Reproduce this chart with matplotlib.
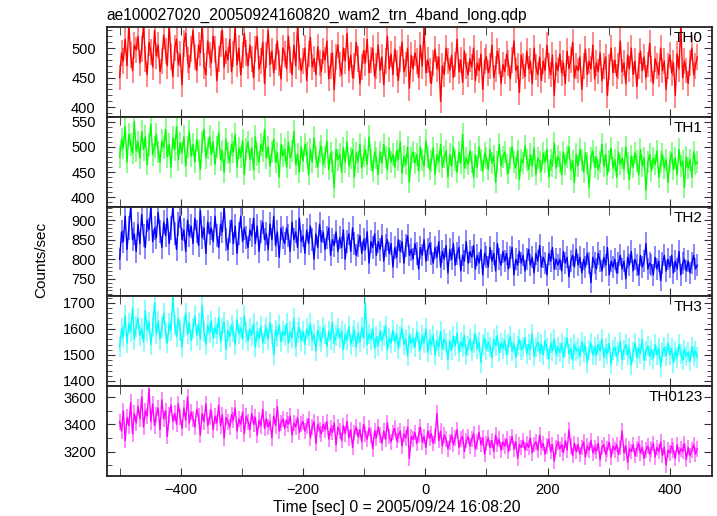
import numpy as np
import matplotlib.pyplot as plt
from matplotlib.ticker import MultipleLocator

plt.rcParams['font.family'] = ['Liberation Sans', 'DejaVu Sans']

# count rates (counts/sec), one value every 3 s from t = -500 s
th0 = [450, 492, 478, 515, 470, 540, 488, 462, 505, 497,
       520, 475, 498, 540, 482, 455, 510, 493, 468, 530,
       487, 505, 460, 478, 522, 495, 470, 540, 485, 452,
       500, 515, 472, 490, 438, 508, 525, 480, 467, 498,
       530, 485, 462, 505, 492, 540, 470, 455, 512, 488,
       475, 520, 498, 445, 482, 507, 530, 468, 495, 480,
       515, 460, 490, 535, 472, 500, 455, 488, 525, 492,
       470, 505, 482, 450, 498, 520, 465, 478, 510, 440,
       488, 530, 472, 495, 458, 485, 512, 475, 448, 500,
       490, 465, 520, 480, 455, 505, 470, 538, 485, 462,
       478, 500, 445, 490, 518, 468, 482, 455, 502, 475,
       460, 495, 480, 512, 448, 470, 492, 430, 485, 505,
       472, 455, 500, 478, 525, 462, 488, 450, 470, 510,
       482, 440, 468, 495, 475, 515, 458, 480, 500, 452,
       470, 505, 462, 485, 438, 478, 520, 465, 490, 455,
       498, 475, 445, 482, 510, 460, 472, 500, 432, 488,
       465, 492, 478, 450, 505, 470, 535, 458, 480, 462,
       440, 475, 498, 465, 485, 410, 470, 455, 500, 478,
       462, 488, 450, 472, 515, 460, 480, 442, 495, 470,
       455, 482, 468, 500, 445, 475, 462, 490, 430, 478,
       485, 458, 470, 505, 450, 465, 495, 478, 440, 472,
       460, 490, 475, 448, 480, 512, 462, 470, 425, 488,
       470, 452, 495, 465, 478, 440, 500, 468, 455, 485,
       445, 478, 462, 505, 470, 455, 488, 420, 475, 462,
       490, 458, 475, 440, 495, 465, 480, 510, 450, 470,
       462, 485, 430, 470, 498, 455, 478, 465, 505, 448,
       475, 460, 492, 445, 470, 485, 420, 468, 500, 458,
       480, 452, 470, 512, 460, 475, 440, 488, 465, 500,
       455, 478, 435, 470, 495, 462, 485, 450, 472, 508,
       465, 440, 482, 470, 455, 500, 462, 478, 430, 470,
       488, 458, 475, 420, 490, 465, 540, 450, 478, 462,
       440, 475, 500, 455, 470, 485]

th1 = [480, 515, 498, 540, 470, 525, 505, 488, 550, 492,
       510, 478, 530, 495, 520, 465, 505, 545, 485, 500,
       525, 490, 470, 512, 498, 535, 480, 505, 460, 518,
       495, 540, 475, 508, 488, 520, 462, 500, 530, 482,
       505, 470, 515, 492, 455, 510, 535, 478, 498, 520,
       485, 510, 465, 500, 528, 475, 492, 450, 515, 488,
       470, 505, 490, 525, 460, 498, 480, 512, 445, 495,
       510, 475, 498, 455, 520, 485, 470, 505, 492, 535,
       478, 500, 462, 490, 515, 470, 488, 440, 505, 482,
       495, 460, 510, 478, 492, 530, 465, 485, 450, 500,
       472, 505, 488, 445, 495, 470, 518, 480, 460, 490,
       502, 465, 480, 512, 455, 488, 470, 420, 495, 475,
       485, 450, 498, 470, 510, 462, 478, 495, 440, 488,
       470, 505, 458, 482, 495, 465, 520, 475, 452, 490,
       478, 445, 490, 468, 505, 480, 455, 498, 470, 485,
       460, 492, 475, 510, 448, 482, 465, 500, 430, 478,
       490, 468, 485, 452, 500, 475, 462, 512, 480, 455,
       472, 498, 445, 485, 470, 505, 460, 480, 492, 440,
       485, 462, 500, 475, 450, 490, 468, 525, 458, 478,
       465, 492, 470, 440, 485, 460, 500, 475, 452, 488,
       478, 455, 495, 468, 482, 430, 470, 505, 462, 480,
       490, 465, 448, 478, 500, 470, 458, 492, 435, 475,
       468, 502, 475, 455, 485, 462, 498, 445, 478, 470,
       452, 488, 470, 495, 440, 475, 462, 508, 458, 482,
       470, 445, 490, 465, 480, 500, 455, 472, 430, 485,
       462, 495, 475, 450, 488, 468, 420, 478, 492, 460,
       480, 455, 470, 505, 462, 485, 445, 472, 498, 458,
       475, 440, 490, 465, 478, 455, 500, 468, 435, 482,
       460, 488, 472, 445, 495, 462, 478, 415, 470, 485,
       452, 478, 465, 492, 440, 470, 485, 458, 475, 430,
       470, 488, 455, 478, 445, 495, 462, 472, 420, 480,
       458, 475, 440, 490, 465, 470]

th2 = [800, 870, 845, 910, 825, 880, 935, 850, 865, 820,
       890, 840, 915, 860, 830, 900, 875, 935, 845, 880,
       855, 920, 870, 830, 895, 860, 905, 840, 880, 935,
       865, 825, 890, 910, 850, 875, 820, 900, 860, 885,
       840, 905, 870, 835, 925, 855, 880, 815, 895, 865,
       880, 845, 910, 860, 830, 890, 870, 935, 850, 825,
       870, 900, 840, 885, 815, 865, 910, 845, 880, 855,
       830, 875, 860, 905, 840, 885, 820, 870, 895, 850,
       865, 825, 890, 850, 910, 835, 870, 805, 880, 855,
       840, 880, 860, 820, 895, 850, 870, 830, 905, 845,
       860, 815, 875, 840, 885, 850, 800, 865, 830, 890,
       845, 870, 825, 855, 880, 810, 850, 835, 870, 820,
       855, 830, 875, 800, 845, 865, 820, 880, 840, 810,
       835, 860, 815, 850, 825, 870, 790, 845, 830, 865,
       810, 845, 825, 860, 795, 835, 850, 815, 840, 780,
       830, 805, 850, 820, 845, 790, 835, 860, 810, 825,
       800, 840, 815, 775, 830, 810, 850, 795, 825, 840,
       815, 790, 830, 805, 845, 780, 820, 800, 835, 765,
       825, 800, 840, 785, 815, 830, 770, 810, 795, 845,
       790, 820, 805, 835, 775, 810, 790, 825, 760, 815,
       805, 780, 830, 795, 815, 770, 840, 800, 785, 820,
       795, 815, 775, 805, 830, 760, 800, 785, 820, 790,
       810, 770, 800, 825, 785, 805, 765, 815, 795, 835,
       780, 805, 790, 760, 815, 795, 830, 775, 800, 785,
       800, 770, 820, 790, 805, 755, 795, 810, 780, 825,
       785, 805, 765, 800, 780, 815, 790, 740, 805, 790,
       775, 815, 795, 770, 805, 785, 830, 760, 795, 780,
       800, 765, 790, 810, 775, 795, 750, 805, 785, 820,
       770, 800, 785, 760, 810, 780, 795, 840, 775, 790,
       785, 760, 805, 775, 795, 745, 790, 810, 770, 800,
       780, 810, 765, 795, 775, 820, 760, 790, 800, 770,
       795, 765, 790, 810, 775, 785]

th3 = [1530, 1600, 1570, 1650, 1545, 1620, 1590, 1680, 1560, 1610,
       1640, 1575, 1600, 1550, 1670, 1595, 1625, 1540, 1610, 1700,
       1580, 1630, 1560, 1605, 1660, 1585, 1545, 1620, 1595, 1725,
       1615, 1570, 1640, 1595, 1530, 1610, 1660, 1580, 1625, 1555,
       1600, 1650, 1575, 1620, 1560, 1690, 1590, 1540, 1615, 1585,
       1630, 1565, 1605, 1580, 1645, 1550, 1600, 1625, 1520, 1595,
       1570, 1615, 1590, 1540, 1635, 1580, 1605, 1560, 1650, 1585,
       1555, 1600, 1575, 1620, 1530, 1590, 1565, 1610, 1545, 1580,
       1605, 1560, 1625, 1580, 1500, 1595, 1570, 1615, 1550, 1590,
       1575, 1620, 1545, 1590, 1565, 1640, 1530, 1585, 1605, 1555,
       1590, 1540, 1600, 1575, 1620, 1555, 1580, 1515, 1595, 1570,
       1550, 1605, 1580, 1530, 1590, 1560, 1625, 1545, 1575, 1600,
       1565, 1590, 1520, 1580, 1555, 1610, 1540, 1570, 1595, 1530,
       1585, 1550, 1605, 1565, 1700, 1540, 1580, 1560, 1600, 1525,
       1570, 1535, 1590, 1555, 1575, 1610, 1520, 1565, 1545, 1595,
       1550, 1580, 1525, 1570, 1600, 1540, 1560, 1495, 1575, 1545,
       1565, 1530, 1590, 1550, 1520, 1575, 1545, 1600, 1510, 1560,
       1540, 1575, 1500, 1555, 1530, 1590, 1520, 1560, 1545, 1480,
       1555, 1520, 1570, 1535, 1585, 1510, 1550, 1530, 1575, 1500,
       1535, 1560, 1515, 1545, 1580, 1525, 1550, 1470, 1540, 1565,
       1520, 1550, 1530, 1490, 1560, 1535, 1575, 1510, 1545, 1525,
       1555, 1500, 1540, 1570, 1515, 1545, 1490, 1535, 1560, 1520,
       1530, 1565, 1505, 1540, 1520, 1580, 1495, 1530, 1550, 1510,
       1540, 1500, 1555, 1525, 1485, 1545, 1515, 1560, 1500, 1530,
       1510, 1545, 1490, 1530, 1565, 1505, 1525, 1480, 1540, 1515,
       1525, 1495, 1550, 1510, 1535, 1470, 1520, 1545, 1500, 1530,
       1500, 1540, 1515, 1560, 1490, 1525, 1505, 1545, 1465, 1520,
       1530, 1495, 1510, 1550, 1480, 1520, 1540, 1500, 1525, 1460,
       1510, 1545, 1490, 1525, 1505, 1560, 1480, 1515, 1535, 1495,
       1520, 1485, 1540, 1500, 1525, 1455, 1510, 1530, 1495, 1545,
       1500, 1525, 1470, 1515, 1490, 1540, 1505, 1480, 1520, 1495,
       1510, 1475, 1530, 1495, 1515, 1490]

th0123 = [3420, 3350, 3500, 3280, 3450, 3390, 3560, 3330, 3480, 3410,
          3530, 3440, 3600, 3380, 3500, 3460, 3660, 3420, 3550, 3390,
          3470, 3520, 3360, 3580, 3440, 3500, 3310, 3470, 3540, 3420,
          3480, 3400, 3550, 3450, 3370, 3520, 3430, 3600, 3410, 3490,
          3440, 3380, 3510, 3460, 3320, 3480, 3420, 3550, 3390, 3450,
          3500, 3360, 3460, 3410, 3540, 3390, 3470, 3300, 3450, 3420,
          3380, 3470, 3430, 3520, 3350, 3440, 3400, 3490, 3330, 3460,
          3420, 3360, 3480, 3400, 3450, 3320, 3430, 3390, 3510, 3370,
          3440, 3380, 3420, 3300, 3460, 3390, 3530, 3350, 3410, 3440,
          3370, 3430, 3400, 3460, 3320, 3410, 3380, 3450, 3340, 3400,
          3420, 3350, 3390, 3440, 3300, 3380, 3420, 3260, 3400, 3360,
          3330, 3400, 3360, 3420, 3290, 3370, 3340, 3410, 3250, 3380,
          3350, 3280, 3390, 3330, 3420, 3300, 3360, 3230, 3340, 3380,
          3310, 3360, 3270, 3400, 3330, 3290, 3370, 3320, 3220, 3350,
          3300, 3380, 3320, 3260, 3350, 3290, 3410, 3310, 3270, 3340,
          3370, 3280, 3320, 3350, 3240, 3330, 3300, 3380, 3150, 3310,
          3290, 3340, 3260, 3320, 3380, 3270, 3310, 3230, 3350, 3300,
          3330, 3260, 3310, 3480, 3280, 3350, 3240, 3320, 3290, 3220,
          3270, 3320, 3250, 3300, 3360, 3230, 3290, 3310, 3200, 3280,
          3310, 3240, 3290, 3330, 3220, 3270, 3340, 3250, 3300, 3180,
          3260, 3300, 3230, 3280, 3200, 3320, 3250, 3290, 3210, 3270,
          3240, 3290, 3200, 3260, 3310, 3220, 3270, 3150, 3250, 3230,
          3280, 3210, 3260, 3230, 3300, 3190, 3250, 3270, 3210, 3320,
          3230, 3260, 3180, 3240, 3290, 3200, 3250, 3130, 3230, 3270,
          3220, 3250, 3190, 3280, 3210, 3360, 3240, 3170, 3260, 3200,
          3250, 3180, 3230, 3270, 3160, 3240, 3210, 3280, 3190, 3230,
          3200, 3260, 3140, 3230, 3250, 3180, 3220, 3270, 3160, 3240,
          3210, 3250, 3180, 3230, 3350, 3190, 3240, 3120, 3220, 3200,
          3250, 3170, 3220, 3260, 3190, 3230, 3150, 3210, 3240, 3180,
          3220, 3260, 3160, 3230, 3200, 3270, 3170, 3230, 3100, 3210,
          3190, 3240, 3210, 3150, 3250, 3180, 3220, 3200, 3260, 3140,
          3230, 3170, 3210, 3250, 3180, 3220]

bands = ['TH0', 'TH1', 'TH2', 'TH3', 'TH0123']
series = [th0, th1, th2, th3, th0123]
colors = ['#ff0000', '#00ff00', '#0000ff', '#00ffff', '#ff00ff']
ylims = [(384, 536), (382, 560), (705, 935), (1380, 1725), (3020, 3680)]
ymajor = [50, 50, 50, 100, 200]
yminor = [10, 10, 10, 20, 100]
t_start, t_step = -500, 3

fig, axes = plt.subplots(5, 1, sharex=True, figsize=(7.17, 5.16), dpi=100)
fig.subplots_adjust(left=0.149, right=0.993, top=0.948, bottom=0.0775, hspace=0)

for ax, name, y, c, yl, ma, mi in zip(axes, bands, series, colors, ylims, ymajor, yminor):
    y = np.array(y)
    t = t_start + t_step * np.arange(len(y))
    err = np.sqrt(y)  # poisson error on 1 s bins
    ax.errorbar(t, y, yerr=err, fmt='none', ecolor=c, alpha=0.5, elinewidth=1.3)
    ax.plot(t, y, color=c, lw=1.0)
    ax.set_ylim(*yl)
    ax.set_xlim(-521, 469)
    ax.yaxis.set_major_locator(MultipleLocator(ma))
    ax.yaxis.set_minor_locator(MultipleLocator(mi))
    ax.xaxis.set_major_locator(MultipleLocator(200))
    ax.xaxis.set_minor_locator(MultipleLocator(100))
    ax.tick_params(axis='both', which='both', direction='in', top=True, right=True,
                   labelsize=10.5, color='#333333')
    ax.tick_params(axis='y', which='major', length=6, pad=8)
    ax.tick_params(axis='y', which='minor', length=3.5)
    ax.tick_params(axis='x', which='both', length=6, pad=5)
    for sp in ax.spines.values():
        sp.set_linewidth(1.3)
        sp.set_color('#222222')
    ax.text(0.985, 0.955, name, transform=ax.transAxes, ha='right', va='top', fontsize=11)

axes[0].set_title('ae100027020_20050924160820_wam2_trn_4band_long.qdp',
                  loc='left', fontsize=11.2, pad=5)
fig.text(0.057, 0.496, 'Counts/sec', rotation=90, ha='center', va='center', fontsize=11)
fig.text(0.554, 0.016, 'Time [sec] 0 = 2005/09/24 16:08:20', ha='center', va='center',
         fontsize=11.3)

plt.savefig('out.png', dpi=100)
